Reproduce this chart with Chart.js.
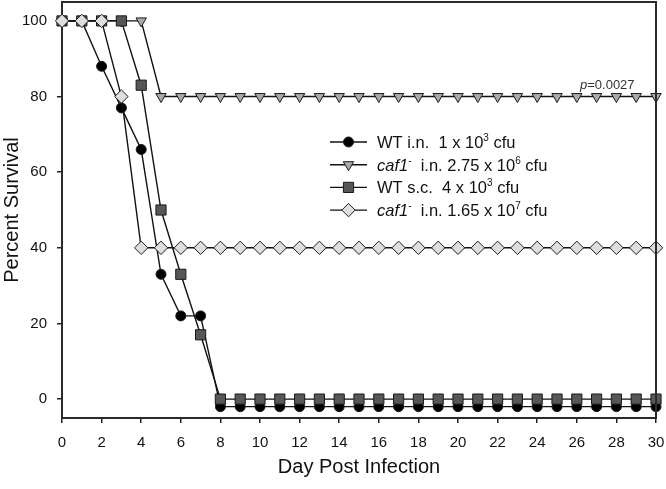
<!DOCTYPE html>
<html><head><meta charset="utf-8">
<script src="https://cdn.jsdelivr.net/npm/chart.js@4/dist/chart.umd.min.js"></script>
<style>html,body{margin:0;padding:0;background:#fff}</style>
</head><body>
<canvas id="c" width="666" height="489" style="display:block"></canvas>
<script>
// ---- data ----
const days = [0,1,2,3,4,5,6,7,8,9,10,11,12,13,14,15,16,17,18,19,20,21,22,23,24,25,26,27,28,29,30];
const wtIn1e3 = [100,100,88,77,66,33,22,22,-2,-2,-2,-2,-2,-2,-2,-2,-2,-2,-2,-2,-2,-2,-2,-2,-2,-2,-2,-2,-2,-2,-2];
const caf1In275e6 = [100,100,100,100,100,80,80,80,80,80,80,80,80,80,80,80,80,80,80,80,80,80,80,80,80,80,80,80,80,80,80];
const wtSc4e3 = [100,100,100,100,83,50,33,17,0,0,0,0,0,0,0,0,0,0,0,0,0,0,0,0,0,0,0,0,0,0,0];
const caf1In165e7 = [100,100,100,80,40,40,40,40,40,40,40,40,40,40,40,40,40,40,40,40,40,40,40,40,40,40,40,40,40,40,40];
const xTicks = [0,2,4,6,8,10,12,14,16,18,20,22,24,26,28,30];
const yTicks = [0,20,40,60,80,100];
const legendRows = [
  [{t:'WT i.n.  1 x 10'},{t:'3',sup:true},{t:' cfu'}],
  [{t:'caf1',it:true},{t:'-',sup:true},{t:'  i.n. 2.75 x 10'},{t:'6',sup:true},{t:' cfu'}],
  [{t:'WT s.c.  4 x 10'},{t:'3',sup:true},{t:' cfu'}],
  [{t:'caf1',it:true},{t:'-',sup:true},{t:'  i.n. 1.65 x 10'},{t:'7',sup:true},{t:' cfu'}]
];
const pText = [{t:'p',it:true},{t:'=0.0027'}];

const pts = arr => days.map((d,i)=>({x:d,y:arr[i]}));
const FONT = '"Liberation Sans", Arial, sans-serif';

const styles = [
  {pointStyle:'circle', radius:5, rotation:0, bg:'#000000'},
  {pointStyle:'triangle', radius:6, rotation:180, bg:'#a9a9a9'},
  {pointStyle:'rect', radius:7.2, rotation:0, bg:'#575757'},
  {pointStyle:'rectRot', radius:6.7, rotation:0, bg:'#dedede'}
];
const series = [wtIn1e3, caf1In275e6, wtSc4e3, caf1In165e7];
const orders = [4,3,2,1];

const datasets = series.map((s,i)=>({
  data: pts(s),
  order: orders[i],
  borderColor:'#111',
  borderWidth:1.4,
  pointStyle: styles[i].pointStyle,
  pointRadius: styles[i].radius,
  pointRotation: styles[i].rotation,
  pointBackgroundColor: styles[i].bg,
  pointBorderColor:'#1a1a1a',
  pointBorderWidth:1,
  tension:0,
  clip:false,
  fill:false
}));

function drawRich(ctx, segs, x, y, size){
  let cx = x;
  ctx.textBaseline = 'alphabetic';
  ctx.textAlign = 'left';
  for(const s of segs){
    const fs = s.sup ? Math.round(size*0.62) : size;
    ctx.font = (s.it?'italic ':'') + fs + 'px ' + FONT;
    const dy = s.sup ? -size*0.42 : 0;
    ctx.fillText(s.t, cx, y+dy);
    cx += ctx.measureText(s.t).width;
  }
}

const extras = {
  id:'extras',
  beforeDatasetsDraw(chart){
    const {ctx, chartArea:a} = chart;
    ctx.save();
    ctx.strokeStyle = '#2a2a2a'; ctx.lineWidth = 2;
    ctx.strokeRect(a.left, a.top, a.right-a.left, a.bottom-a.top);
    ctx.restore();
  },
  afterDatasetsDraw(chart){
    const {ctx, chartArea:a} = chart;
    ctx.save();
    ctx.strokeStyle = '#2a2a2a'; ctx.lineWidth = 2;
    ctx.beginPath(); ctx.moveTo(a.right, a.top); ctx.lineTo(a.right, a.bottom); ctx.stroke();
    // legend
    const rowY = [142,164.7,187.4,210.1];
    legendRows.forEach((row,i)=>{
      const y = rowY[i];
      ctx.strokeStyle = '#111'; ctx.lineWidth = 1.4;
      ctx.beginPath(); ctx.moveTo(330,y); ctx.lineTo(367,y); ctx.stroke();
      ctx.fillStyle = styles[i].bg; ctx.strokeStyle = '#1a1a1a'; ctx.lineWidth = 1;
      Chart.helpers.drawPoint(ctx, {pointStyle:styles[i].pointStyle, radius:styles[i].radius, rotation:styles[i].rotation, borderWidth:1}, 348.5, y);
      ctx.fillStyle = '#111';
      drawRich(ctx, row, 377, y+6, 16.5);
    });
    ctx.fillStyle = '#333';
    drawRich(ctx, pText, 580, 88.5, 13);
    ctx.restore();
  }
};

new Chart(document.getElementById('c'), {
  type:'line',
  data:{datasets},
  options:{
    responsive:false, animation:false, devicePixelRatio:1,
    layout:{autoPadding:false, padding:{left:0,right:10,top:2,bottom:0}},
    plugins:{legend:{display:false}, tooltip:{enabled:false}},
    scales:{
      x:{
        type:'linear', min:0, max:30,
        afterBuildTicks: s => { s.ticks = xTicks.map(v=>({value:v})); },
        afterFit: s => { s.height = 71; s.paddingLeft = 0; s.paddingRight = 0; },
        grid:{drawOnChartArea:false, drawTicks:true, tickLength:5, color:'#222', lineWidth:1.5},
        border:{display:false},
        ticks:{font:{family:FONT,size:15}, color:'#111', padding:11, maxRotation:0, autoSkip:false},
        title:{display:true, text:'Day Post Infection', font:{family:FONT,size:20}, color:'#111', padding:{top:0,bottom:10}}
      },
      y:{
        type:'linear', min:-5, max:105,
        afterBuildTicks: s => { s.ticks = yTicks.map(v=>({value:v})); },
        afterFit: s => { s.width = 62; s.paddingTop = 0; s.paddingBottom = 0; },
        grid:{drawOnChartArea:false, drawTicks:true, tickLength:5, color:'#222', lineWidth:1.5},
        border:{display:false},
        ticks:{font:{family:FONT,size:15}, color:'#111', padding:10},
        title:{display:true, text:'Percent Survival', font:{family:FONT,size:20}, color:'#111', padding:{top:0,bottom:0}}
      }
    }
  },
  plugins:[extras]
});
</script>
</body></html>
